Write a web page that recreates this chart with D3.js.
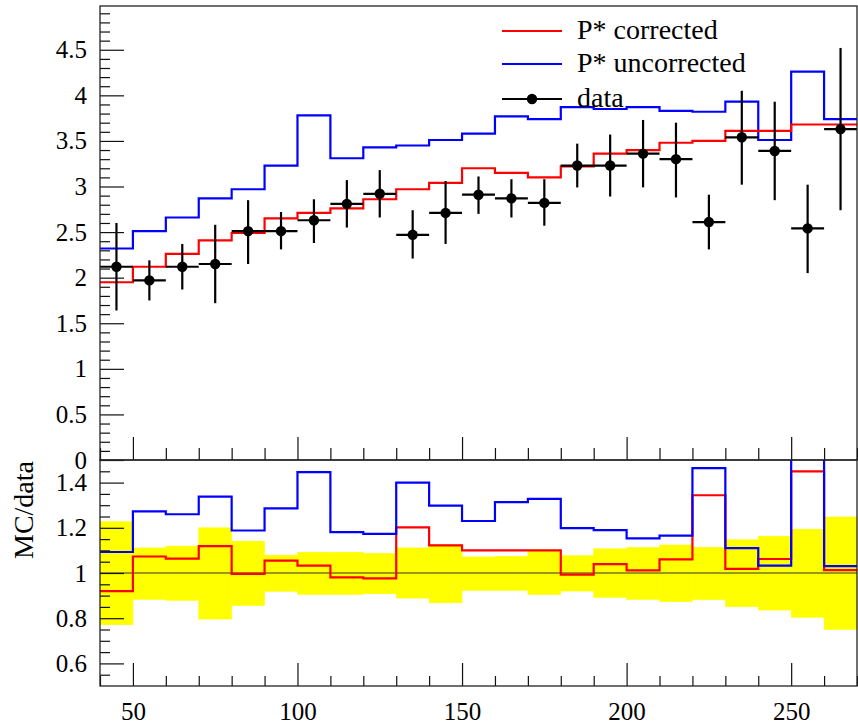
<!DOCTYPE html>
<html>
<head>
<meta charset="utf-8">
<script src="https://cdn.jsdelivr.net/npm/d3@7"></script>
<style>
  html, body { margin: 0; padding: 0; background: #fff; }
  svg { display: block; }
  text { font-family: "Liberation Serif", "Times New Roman", serif; fill: #000; }
</style>
</head>
<body>
<svg id="chart" width="858" height="725"></svg>
<script>
// ---- data ----
const binEdges = [40,50,60,70,80,90,100,110,120,130,140,150,160,170,180,190,200,210,220,230,240,250,260,270];
const binCenters = [45,55,65,75,85,95,105,115,125,135,145,155,165,175,185,195,205,215,225,235,245,255,265];

const dataValues = [2.12,1.97,2.12,2.15,2.51,2.51,2.63,2.81,2.92,2.47,2.71,2.91,2.87,2.82,3.23,3.23,3.36,3.30,2.61,3.54,3.39,2.54,3.63];
const dataErrHigh = [2.60,2.19,2.37,2.58,2.85,2.72,2.86,3.07,3.18,2.74,3.06,3.11,3.08,3.08,3.47,3.57,3.73,3.70,2.91,4.05,3.93,3.02,4.52];
const dataErrLow  = [1.64,1.75,1.87,1.72,2.15,2.31,2.38,2.55,2.66,2.21,2.37,2.70,2.66,2.57,2.99,2.89,2.99,2.88,2.31,3.02,2.85,2.05,2.74];

const corrected   = [1.95,2.12,2.26,2.41,2.49,2.65,2.71,2.76,2.86,2.97,3.04,3.20,3.15,3.10,3.22,3.36,3.40,3.48,3.50,3.61,3.61,3.68,3.68];
const uncorrected = [2.32,2.51,2.66,2.87,2.97,3.23,3.78,3.31,3.43,3.45,3.51,3.58,3.77,3.74,3.87,3.85,3.87,3.83,3.82,3.93,3.51,4.26,3.74];

const ratioCorrected   = [0.92,1.073,1.064,1.119,0.996,1.055,1.033,0.981,0.976,1.202,1.122,1.10,1.10,1.10,0.993,1.039,1.012,1.06,1.344,1.018,1.062,1.45,1.013];
const ratioUncorrected = [1.093,1.273,1.26,1.338,1.188,1.286,1.446,1.181,1.173,1.40,1.298,1.23,1.314,1.328,1.199,1.19,1.153,1.165,1.464,1.11,1.033,1.68,1.03];

const bandHigh = [1.227,1.111,1.119,1.20,1.141,1.079,1.092,1.092,1.087,1.111,1.126,1.071,1.074,1.096,1.077,1.107,1.113,1.124,1.114,1.147,1.163,1.194,1.248];
const bandLow  = [0.771,0.883,0.879,0.796,0.856,0.919,0.905,0.905,0.908,0.889,0.868,0.923,0.923,0.905,0.92,0.892,0.883,0.873,0.882,0.851,0.836,0.804,0.75];

const xTicks = [50,100,150,200,250];
const yTicksUpper = [0,0.5,1,1.5,2,2.5,3,3.5,4,4.5];
const yTicksLower = [0.6,0.8,1,1.2,1.4];

const legendLabels = ["P* corrected","P* uncorrected","data"];
const colors = { corrected: "#ff0000", uncorrected: "#0000ff", band: "#ffff00" };

// ---- layout ----
const svg = d3.select("#chart");
const pLeft = 100, pRight = 857, pTop = 6, pMid = 460, pBottom = 686;
const serif = "'Liberation Serif', 'Times New Roman', serif";

const x = d3.scaleLinear().domain([40,270]).range([pLeft,pRight]);
const yU = d3.scaleLinear().domain([0,4.98]).range([pMid,pTop]);
const yL = d3.scaleLinear().domain([0.5,1.5]).range([pBottom,pMid]);

const defs = svg.append("defs");
defs.append("clipPath").attr("id","clipU").append("rect")
  .attr("x",pLeft).attr("y",pTop).attr("width",pRight-pLeft).attr("height",pMid-pTop);
defs.append("clipPath").attr("id","clipL").append("rect")
  .attr("x",pLeft).attr("y",pMid).attr("width",pRight-pLeft).attr("height",pBottom-pMid);

function stepLine(vals, yScale) {
  const p = vals.map((v,i)=>[binEdges[i], v]);
  p.push([binEdges[binEdges.length-1], vals[vals.length-1]]);
  return d3.line().x(d=>x(d[0])).y(d=>yScale(d[1])).curve(d3.curveStepAfter)(p);
}

// ---- upper panel ----
const gU = svg.append("g").attr("clip-path","url(#clipU)");
gU.append("path").attr("d", stepLine(uncorrected,yU))
  .attr("fill","none").attr("stroke",colors.uncorrected).attr("stroke-width",2.2);
gU.append("path").attr("d", stepLine(corrected,yU))
  .attr("fill","none").attr("stroke",colors.corrected).attr("stroke-width",2.2);

const pts = gU.append("g").selectAll("g").data(binCenters).join("g");
pts.append("line")
  .attr("x1",(d,i)=>x(binEdges[i])).attr("x2",(d,i)=>x(binEdges[i+1]))
  .attr("y1",(d,i)=>yU(dataValues[i])).attr("y2",(d,i)=>yU(dataValues[i]))
  .attr("stroke","#000").attr("stroke-width",2.2);
pts.append("line")
  .attr("x1",d=>x(d)).attr("x2",d=>x(d))
  .attr("y1",(d,i)=>yU(dataErrLow[i])).attr("y2",(d,i)=>yU(dataErrHigh[i]))
  .attr("stroke","#000").attr("stroke-width",2.2);
pts.append("circle")
  .attr("cx",d=>x(d)).attr("cy",(d,i)=>yU(dataValues[i])).attr("r",5.2).attr("fill","#000");

// ---- lower panel ----
const gL = svg.append("g").attr("clip-path","url(#clipL)");
gL.append("g").selectAll("rect").data(bandHigh).join("rect")
  .attr("x",(d,i)=>x(binEdges[i])).attr("width",(d,i)=>x(binEdges[i+1])-x(binEdges[i]))
  .attr("y",d=>yL(d)).attr("height",(d,i)=>yL(bandLow[i])-yL(d))
  .attr("fill",colors.band).attr("stroke",colors.band).attr("stroke-width",0.5);
gL.append("line").attr("x1",pLeft).attr("x2",pRight).attr("y1",yL(1)).attr("y2",yL(1))
  .attr("stroke","#333").attr("stroke-width",1);
gL.append("path").attr("d", stepLine(ratioCorrected,yL))
  .attr("fill","none").attr("stroke",colors.corrected).attr("stroke-width",2.2);
gL.append("path").attr("d", stepLine(ratioUncorrected,yL))
  .attr("fill","none").attr("stroke",colors.uncorrected).attr("stroke-width",2.2);

// ---- axes ----
function styleAxis(g) {
  g.attr("font-family", serif).attr("font-size", 25);
  g.select(".domain").remove();
  g.selectAll(".tick line").attr("stroke","#111").attr("stroke-width",1.2);
  g.selectAll(".tick text").style("font-size","25px").style("font-family", serif).attr("fill","#000");
}
const xMinor = d3.range(40,271,10).filter(v=>!xTicks.includes(v));

// upper y
svg.append("g").attr("transform",`translate(${pLeft},0)`)
  .call(d3.axisLeft(yU).tickValues(d3.range(0,50).map(v=>v/10).filter(v=>!yTicksUpper.some(t=>Math.abs(t-v)<1e-6))).tickSizeInner(-10).tickSizeOuter(0).tickFormat(""))
  .call(styleAxis);
svg.append("g").attr("transform",`translate(${pLeft},0)`)
  .call(d3.axisLeft(yU).tickValues(yTicksUpper).tickSizeInner(-24).tickSizeOuter(0).tickPadding(13).tickFormat(d3.format("")))
  .call(styleAxis);
// upper x (no labels)
svg.append("g").attr("transform",`translate(0,${pMid})`)
  .call(d3.axisBottom(x).tickValues(xMinor).tickSizeInner(-12).tickSizeOuter(0).tickFormat(""))
  .call(styleAxis);
svg.append("g").attr("transform",`translate(0,${pMid})`)
  .call(d3.axisBottom(x).tickValues(xTicks).tickSizeInner(-23).tickSizeOuter(0).tickFormat(""))
  .call(styleAxis);
// lower y
svg.append("g").attr("transform",`translate(${pLeft},0)`)
  .call(d3.axisLeft(yL).tickValues(d3.range(11,30).map(v=>v*0.05).filter(v=>!yTicksLower.some(t=>Math.abs(t-v)<1e-6))).tickSizeInner(-10).tickSizeOuter(0).tickFormat(""))
  .call(styleAxis);
svg.append("g").attr("transform",`translate(${pLeft},0)`)
  .call(d3.axisLeft(yL).tickValues(yTicksLower).tickSizeInner(-24).tickSizeOuter(0).tickPadding(13).tickFormat(d3.format("")))
  .call(styleAxis);
// lower x
svg.append("g").attr("transform",`translate(0,${pBottom})`)
  .call(d3.axisBottom(x).tickValues(xMinor).tickSizeInner(-10).tickSizeOuter(0).tickFormat(""))
  .call(styleAxis);
svg.append("g").attr("transform",`translate(0,${pBottom})`)
  .call(d3.axisBottom(x).tickValues(xTicks).tickSizeInner(-23).tickSizeOuter(0).tickPadding(16).tickFormat(d3.format("")))
  .call(styleAxis);

// frames
svg.append("rect").attr("x",pLeft).attr("y",pTop).attr("width",pRight-pLeft).attr("height",pMid-pTop)
  .attr("fill","none").attr("stroke","#222").attr("stroke-width",1.3);
svg.append("rect").attr("x",pLeft).attr("y",pMid).attr("width",pRight-pLeft).attr("height",pBottom-pMid)
  .attr("fill","none").attr("stroke","#222").attr("stroke-width",1.3);

// y label lower
svg.append("text").attr("transform",`translate(33,${pMid+1}) rotate(-90)`)
  .attr("text-anchor","end").style("font-size","28px").style("font-family", serif).text("MC/data");

// ---- legend ----
const leg = svg.append("g");
const legY = [31,64,99];
const legColors = [colors.corrected, colors.uncorrected, "#000"];
legendLabels.forEach((lab,i)=>{
  leg.append("line").attr("x1",502).attr("x2",562).attr("y1",legY[i]).attr("y2",legY[i])
    .attr("stroke",legColors[i]).attr("stroke-width",2.2);
  if (i===2) leg.append("circle").attr("cx",532).attr("cy",legY[i]).attr("r",5.2).attr("fill","#000");
  leg.append("text").attr("x",577).attr("y",legY[i]+8).style("font-size","28px").style("font-family", serif).text(lab);
});
</script>
</body>
</html>
